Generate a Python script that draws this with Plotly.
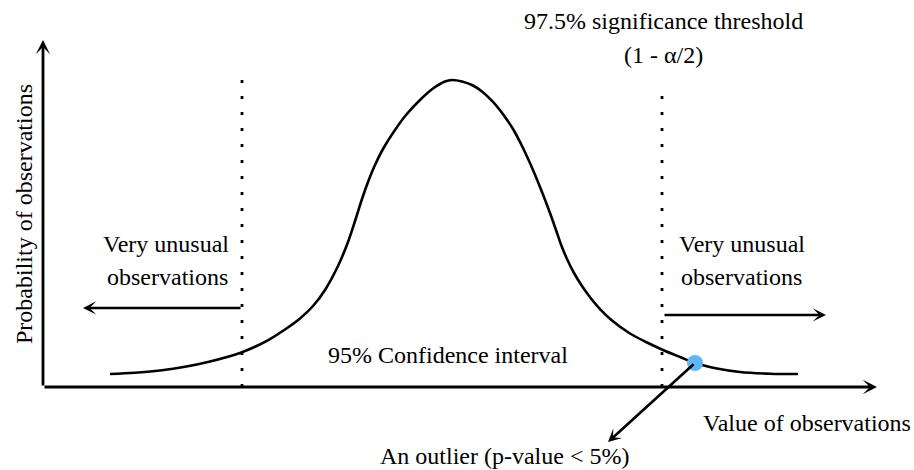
import plotly.graph_objects as go

# Bell-shaped probability curve (value of observations vs. probability)
curve_x = [-3.42, -3.17, -2.92, -2.67, -2.42, -2.12, -1.97, -1.82, -1.67, -1.52,
           -1.39, -1.27, -1.14, -1.04, -0.96, -0.90, -0.84, -0.77, -0.69, -0.57,
           -0.46, -0.32, -0.19, -0.07, 0.00,
           0.10, 0.20, 0.30, 0.41, 0.53, 0.61, 0.71, 0.81, 0.90, 0.98,
           1.04, 1.09, 1.15, 1.22, 1.30, 1.39, 1.48, 1.60, 1.78, 1.94,
           2.11, 2.28, 2.43, 2.65, 2.88, 3.18, 3.46]
curve_y = [0.0000, 0.0016, 0.0048, 0.0098, 0.0170, 0.0286, 0.0370, 0.0476, 0.0605, 0.0755,
           0.0925, 0.1143, 0.1469, 0.1796, 0.2122, 0.2381, 0.2612, 0.2844, 0.3061, 0.3320,
           0.3524, 0.3728, 0.3884, 0.3980, 0.4000,
           0.3980, 0.3932, 0.3844, 0.3701, 0.3497, 0.3333, 0.3075, 0.2776, 0.2476, 0.2190,
           0.1959, 0.1762, 0.1565, 0.1374, 0.1197, 0.1027, 0.0884, 0.0728, 0.0551, 0.0435,
           0.0327, 0.0231, 0.0150, 0.0075, 0.0027, 0.0004, 0.0000]

# Two-sided significance thresholds
lower_threshold = -2.10
upper_threshold = 2.10

# The outlying observation
outlier_x = [2.43]
outlier_y = [0.015]

W, H = 914, 470
X_RANGE = [-4.52, 4.62]
Y_RANGE = [-0.1306, 0.5088]
BASE_Y = -0.0177          # level of the horizontal axis
FONT = "Liberation Serif, Times New Roman, serif"
INK = "#000000"


def px(x_pix):
    return x_pix / W


def py(y_pix):
    return 1 - y_pix / H


fig = go.Figure()

fig.add_trace(go.Scatter(
    x=curve_x, y=curve_y, mode="lines",
    line=dict(color=INK, width=2.6, shape="spline", smoothing=1.0),
    hoverinfo="skip", showlegend=False,
))

fig.add_trace(go.Scatter(
    x=outlier_x, y=outlier_y, mode="markers",
    marker=dict(color="#5DB7F5", size=16, line=dict(width=0)),
    hoverinfo="skip", showlegend=False,
))

# Dotted threshold lines
for xt, top in [(lower_threshold, 0.4027), (upper_threshold, 0.3864)]:
    fig.add_shape(type="line", xref="x", yref="y",
                  x0=xt, x1=xt, y0=BASE_Y, y1=top,
                  line=dict(color=INK, width=2.8, dash="3px,13px"),
                  layer="below")


def arrow(x_tip, y_tip, x_tail, y_tail, width=2.6, size=0.85):
    fig.add_annotation(
        x=x_tip, y=y_tip, ax=x_tail, ay=y_tail,
        xref="x", yref="y", axref="x", ayref="y",
        showarrow=True, arrowhead=3, arrowsize=size, arrowwidth=width,
        arrowcolor=INK, text="", standoff=0, startstandoff=0,
    )


# Axes drawn as arrows
arrow(-4.09, 0.4544, -4.09, BASE_Y, width=2.8)
arrow(4.25, BASE_Y, -4.09, BASE_Y, width=2.8)

# "Very unusual observations" arrows
arrow(-3.69, 0.0898, lower_threshold, 0.0898)
arrow(3.74, 0.0803, upper_threshold + 0.01, 0.0803)

# Outlier pointer
arrow(1.56, -0.0925, outlier_x[0], outlier_y[0])


def label(text, x_pix, y_pix, angle=0, size=24):
    fig.add_annotation(
        x=px(x_pix), y=py(y_pix), xref="paper", yref="paper",
        text=text, showarrow=False, textangle=angle,
        xanchor="center", yanchor="middle",
        font=dict(family=FONT, size=size, color=INK),
    )


label("97.5% significance threshold", 663, 21)
label("(1 - α/2)", 663, 55)
label("Very unusual", 166, 244)
label("observations", 167, 277)
label("Very unusual", 742, 244)
label("observations", 741, 277)
label("95% Confidence interval", 448, 355)
label("Value of observations", 807, 423)
label("An outlier (p-value < 5%)", 504, 456)
label("Probability of observations", 24, 214, angle=-90)

fig.update_layout(
    width=W, height=H, autosize=False,
    margin=dict(l=0, r=0, t=0, b=0),
    paper_bgcolor="white", plot_bgcolor="white",
    xaxis=dict(range=X_RANGE, visible=False, fixedrange=True),
    yaxis=dict(range=Y_RANGE, visible=False, fixedrange=True),
    showlegend=False,
)

fig.write_html("out.html")
